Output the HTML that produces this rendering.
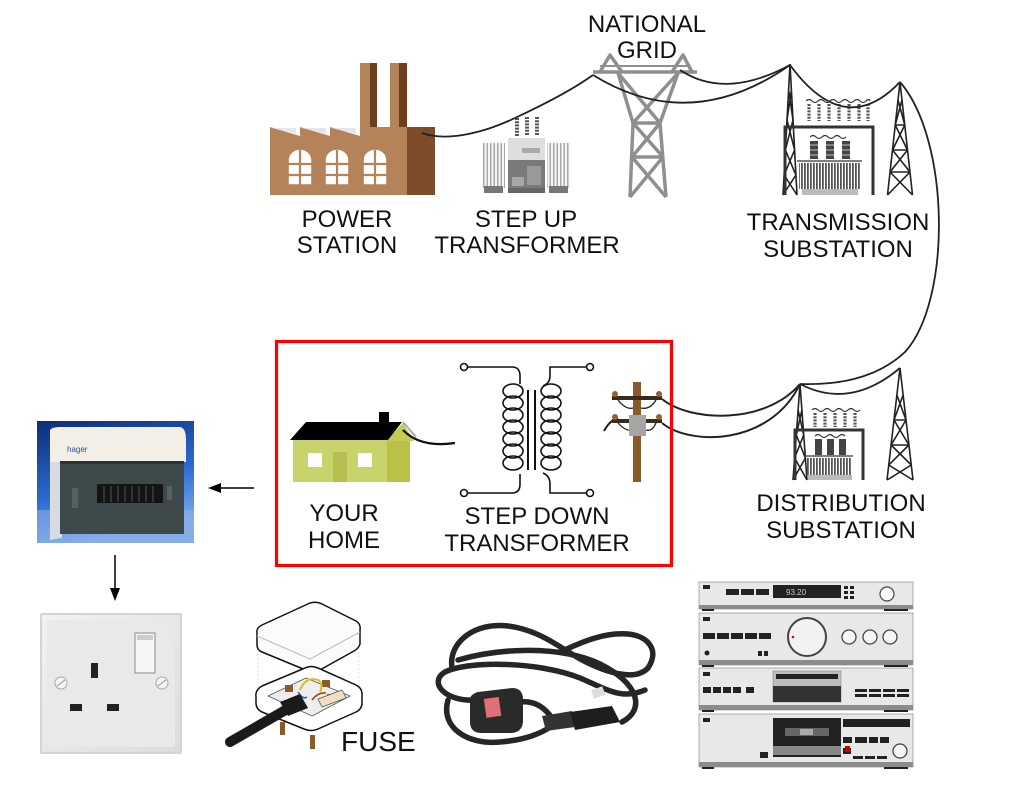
<!DOCTYPE html>
<html><head><meta charset="utf-8"><style>
html,body{margin:0;padding:0;background:#fff;}
svg{display:block;}
text{font-family:"Liberation Sans",Arial,sans-serif;fill:#111;}
</style></head><body>
<svg width="1024" height="803" viewBox="0 0 1024 803" xmlns="http://www.w3.org/2000/svg">
<defs>
<pattern id="grill" width="3" height="10" patternUnits="userSpaceOnUse"><rect width="3" height="10" fill="#fff"/><rect width="1.8" height="10" fill="#555"/></pattern>
<pattern id="fin" width="3.5" height="10" patternUnits="userSpaceOnUse"><rect width="3.5" height="10" fill="#f6f6f6"/><rect width="1.5" height="10" fill="#a8a8a8"/></pattern>
<linearGradient id="blue" x1="0" y1="0" x2="0.3" y2="1"><stop offset="0" stop-color="#0d2c78"/><stop offset="0.6" stop-color="#2d6ad0"/><stop offset="1" stop-color="#7aa8e8"/></linearGradient>
<linearGradient id="plate" x1="0" y1="0" x2="1" y2="1"><stop offset="0" stop-color="#f2f2f2"/><stop offset="1" stop-color="#dcdcdc"/></linearGradient>
</defs>
<rect width="1024" height="803" fill="#fff"/>

<!-- ============ POWER STATION ============ -->
<g>
<rect x="360" y="63" width="17" height="66" fill="#b5835a"/>
<rect x="370" y="63" width="7" height="66" fill="#6e3f1f"/>
<rect x="390" y="63" width="17" height="66" fill="#b5835a"/>
<rect x="399" y="63" width="8" height="66" fill="#6e3f1f"/>
<path d="M270,195 L270,127 L300,136 L300,127 L330,136 L330,127 L360,136 L360,127 L407,127 L407,195 Z" fill="#b5835a"/>
<path d="M272,128 L296,128 L296,134 Z M302,128 L326,128 L326,134 Z M332,128 L356,128 L356,134 Z" fill="#e6e6ea"/>
<rect x="407" y="127" width="28" height="68" fill="#7e4c29"/>
<g fill="#fff" stroke="#b5835a" stroke-width="1.6">
<path d="M288,185 L288,160 A12,11 0 0 1 312,160 L312,185 Z"/>
<path d="M325,185 L325,160 A12,11 0 0 1 349,160 L349,185 Z"/>
<path d="M363,185 L363,160 A12,11 0 0 1 387,160 L387,185 Z"/>
</g>
<g stroke="#b5835a" stroke-width="2.2">
<line x1="300" y1="150" x2="300" y2="185"/><line x1="288" y1="164" x2="312" y2="164"/><line x1="288" y1="175" x2="312" y2="175"/>
<line x1="337" y1="150" x2="337" y2="185"/><line x1="325" y1="164" x2="349" y2="164"/><line x1="325" y1="175" x2="349" y2="175"/>
<line x1="375" y1="150" x2="375" y2="185"/><line x1="363" y1="164" x2="387" y2="164"/><line x1="363" y1="175" x2="387" y2="175"/>
</g>
</g>

<!-- ============ STEP UP TRANSFORMER ============ -->
<g>
<rect x="482" y="143" width="23" height="45" fill="url(#fin)"/>
<rect x="547" y="143" width="23" height="45" fill="url(#fin)"/>
<rect x="484" y="186" width="19" height="7" fill="#777"/>
<rect x="549" y="186" width="19" height="7" fill="#777"/>
<rect x="508" y="138" width="37" height="55" fill="#dedede"/>
<rect x="522" y="148" width="18" height="5" fill="#aaa"/>
<rect x="508" y="160" width="37" height="28" fill="#7a7a7a"/>
<rect x="512" y="177" width="12" height="9" fill="#a8a8a8"/>
<rect x="527" y="166" width="14" height="19" fill="#999"/>
<rect x="508" y="188" width="37" height="5" fill="#666"/>
<g stroke="#555" stroke-width="4" stroke-dasharray="2,1.2">
<line x1="517" y1="118" x2="517" y2="136"/><line x1="527" y1="117" x2="527" y2="136"/><line x1="537" y1="117" x2="537" y2="136"/>
</g>
</g>

<!-- ============ NATIONAL GRID TOWER ============ -->
<g stroke="#8f8f8f" stroke-width="3.5" fill="none" stroke-linejoin="round">
<line x1="593" y1="72" x2="697" y2="72"/>
<line x1="600" y1="66" x2="690" y2="66" stroke-width="2"/>
<path d="M600,72 L610,55 L622,72"/>
<path d="M672,72 L683,55 L692,72"/>
<path d="M618,73 L633,123 L630,197"/>
<path d="M678,73 L660,123 L666,197"/>
<line x1="618" y1="73" x2="660" y2="123"/>
<line x1="678" y1="73" x2="633" y2="123"/>
<line x1="633" y1="123" x2="660" y2="123"/>
<line x1="632" y1="157" x2="663" y2="157"/>
<line x1="633" y1="123" x2="663" y2="157"/>
<line x1="660" y1="123" x2="632" y2="157"/>
<line x1="632" y1="157" x2="666" y2="197"/>
<line x1="663" y1="157" x2="630" y2="197"/>
</g>

<!-- ============ TRANSMISSION SUBSTATION ============ -->
<g stroke="#222" fill="none" stroke-width="1.6">
<line x1="790" y1="64" x2="783" y2="195"/><line x1="790" y1="64" x2="797" y2="195"/>
<path d="M788.6,90 L793,120 M791.4,90 L787,120 M787,120 L794.6,150 M793,120 L785.4,150 M785.4,150 L795.9,175 M794.6,150 L784.1,175 M784.1,175 L797,195 M795.9,175 L783,195"/>
<line x1="900" y1="82" x2="887.5" y2="195"/><line x1="900" y1="82" x2="912.5" y2="195"/>
<path d="M898,100 L904.8,125 M902,100 L895.2,125 M895.2,125 L907.5,150 M904.8,125 L892.5,150 M892.5,150 L910,172 M907.5,150 L890,172 M890,172 L912.5,195 M910,172 L887.5,195 M895.2,125 L904.8,125 M892.5,150 L907.5,150 M890,172 L910,172"/>
</g>
<g>
<path d="M785,195 L785,127 L873,127 L873,195" stroke="#333" stroke-width="3" fill="none"/>
<path d="M806,101 q3,-3 6,0 t6,0 t6,0 t6,0 t6,0 t6,0 t6,0 t6,0 t6,0 t6,0 t4,0" stroke="#333" stroke-width="1.2" fill="none"/>
<g stroke="#555" stroke-width="3.2" stroke-dasharray="2,1.2">
<line x1="809" y1="104" x2="809" y2="121"/><line x1="819" y1="104" x2="819" y2="121"/><line x1="829" y1="104" x2="829" y2="121"/><line x1="839" y1="104" x2="839" y2="121"/><line x1="849" y1="104" x2="849" y2="121"/><line x1="859" y1="104" x2="859" y2="121"/><line x1="868" y1="104" x2="868" y2="121"/>
</g>
<path d="M810,137 q3,-3 6,0 t6,0 t6,0 t6,0 t6,0 t6,0" stroke="#333" stroke-width="1.2" fill="none"/>
<g fill="#444"><rect x="810" y="141" width="8" height="18"/><rect x="826" y="141" width="8" height="18"/><rect x="842" y="141" width="8" height="18"/></g>
<g stroke="#ddd" stroke-width="0.8"><line x1="810" y1="145" x2="818" y2="145"/><line x1="810" y1="150" x2="818" y2="150"/><line x1="810" y1="155" x2="818" y2="155"/><line x1="826" y1="145" x2="834" y2="145"/><line x1="826" y1="150" x2="834" y2="150"/><line x1="826" y1="155" x2="834" y2="155"/><line x1="842" y1="145" x2="850" y2="145"/><line x1="842" y1="150" x2="850" y2="150"/><line x1="842" y1="155" x2="850" y2="155"/></g>
<line x1="797" y1="161" x2="862" y2="161" stroke="#555" stroke-width="1.5"/>
<rect x="799" y="163" width="61" height="26" fill="url(#grill)"/>
<rect x="802" y="189" width="56" height="6" fill="#bbb"/>
</g>

<!-- ============ DISTRIBUTION SUBSTATION ============ -->
<g stroke="#222" fill="none" stroke-width="1.6">
<line x1="800" y1="384" x2="793" y2="480"/><line x1="800" y1="384" x2="807" y2="480"/>
<path d="M798.1,410 L803.7,435 M801.9,410 L796.3,435 M796.3,435 L805.4,458 M803.7,435 L794.6,458 M794.6,458 L807,480 M805.4,458 L793,480"/>
<line x1="900" y1="368" x2="887" y2="480"/><line x1="900" y1="368" x2="913" y2="480"/>
<path d="M896.9,395 L906,420 M903.1,395 L894,420 M894,420 L908.9,445 M906,420 L891.1,445 M891.1,445 L911.3,465 M908.9,445 L888.7,465 M888.7,465 L913,480 M911.3,465 L887,480 M894,420 L906,420 M891.1,445 L908.9,445"/>
</g>
<g>
<path d="M795,480 L795,430 L863,430 L863,480" stroke="#333" stroke-width="3" fill="none"/>
<path d="M812,410 q3,-3 6,0 t6,0 t6,0 t6,0 t6,0 t6,0 t6,0 t6,0" stroke="#333" stroke-width="1.2" fill="none"/>
<g stroke="#555" stroke-width="3.2" stroke-dasharray="2,1.2">
<line x1="815" y1="413" x2="815" y2="427"/><line x1="825" y1="413" x2="825" y2="427"/><line x1="835" y1="413" x2="835" y2="427"/><line x1="845" y1="413" x2="845" y2="427"/><line x1="855" y1="413" x2="855" y2="427"/>
</g>
<path d="M815,436 q3,-3 6,0 t6,0 t6,0 t6,0 t6,0" stroke="#333" stroke-width="1.2" fill="none"/>
<g fill="#444"><rect x="815" y="439" width="7" height="16"/><rect x="827" y="439" width="7" height="16"/><rect x="839" y="439" width="7" height="16"/></g>
<line x1="805" y1="456" x2="853" y2="456" stroke="#555" stroke-width="1.5"/>
<rect x="807" y="458" width="45" height="17" fill="url(#grill)"/>
<rect x="808" y="475" width="44" height="5" fill="#bbb"/>
</g>

<!-- ============ WIRES ============ -->
<g stroke="#222" stroke-width="1.8" fill="none">
<path d="M422,133 C450,143 490,130 515,118 C545,104 575,88 593,75"/>
<path d="M593,75 Q690,135 790,65"/>
<path d="M680,70 Q725,100 790,65"/>
<path d="M790,65 Q845,140 900,82"/>
<path d="M900,82 C950,140 952,300 905,352 C875,380 835,385 800,384"/>
<path d="M800,384 Q850,410 900,368"/>
<path d="M662,399 C690,422 765,425 800,384" stroke-width="2"/>
<path d="M662,423 C690,446 770,446 800,384" stroke-width="2"/>
<path d="M604,431 Q610,420 618,418" stroke-width="2"/>
<path d="M618,400 Q626,410 633,408 M641,408 Q650,410 656,400" stroke-width="1.3"/>
<path d="M618,423 Q626,432 633,430 M646,430 Q652,432 656,423" stroke-width="1.3"/>
</g>

<!-- ============ POLE ============ -->
<g>
<rect x="633" y="382" width="8" height="100" fill="#8b5a2b"/>
<rect x="612" y="396" width="50" height="4" fill="#3a2a1a"/>
<rect x="612" y="419" width="50" height="4" fill="#3a2a1a"/>
<g fill="#9a6030"><circle cx="615" cy="394" r="3"/><circle cx="659" cy="394" r="3"/><circle cx="615" cy="417" r="3"/><circle cx="659" cy="417" r="3"/></g>
<rect x="629" y="415" width="17" height="21" fill="#a5a5a5"/>
</g>

<!-- ============ HOUSE ============ -->
<g>
<rect x="293" y="439" width="95" height="43" fill="#c8d36c"/>
<rect x="387" y="438" width="23" height="44" fill="#b9c247"/>
<path d="M386,441 L403,423 L414,441 Z" fill="#c3cb50"/>
<path d="M403,422 L416,437" stroke="#aaa" stroke-width="2"/>
<rect x="379" y="412" width="10" height="12" fill="#000"/>
<path d="M290,440 L306,422 L402,422 L388,440 Z" fill="#000"/>
<rect x="308" y="453" width="14" height="14" fill="#fff"/>
<rect x="358" y="453" width="14" height="14" fill="#fff"/>
<rect x="333" y="452" width="14" height="30" fill="#b4bf4f"/>
<path d="M403,430 Q420,448 455,443" stroke="#111" stroke-width="2.2" fill="none"/>
</g>

<!-- ============ STEP DOWN TRANSFORMER SYMBOL ============ -->
<g stroke="#111" stroke-width="1.6" fill="none">
<path d="M467,367 L512,367 Q520,367 520,376 L520,384"/>
<path d="M467,493 L512,493 Q520,493 520,484 L520,474"/>
<path d="M587,367 L550,367 L550,376 Q550,383 543,386"/>
<path d="M587,493 L550,493 L550,484 Q550,476 543,473"/>
<ellipse cx="513" cy="391" rx="10" ry="7"/><ellipse cx="513" cy="403" rx="10" ry="7"/><ellipse cx="513" cy="415" rx="10" ry="7"/><ellipse cx="513" cy="427" rx="10" ry="7"/><ellipse cx="513" cy="439" rx="10" ry="7"/><ellipse cx="513" cy="451" rx="10" ry="7"/><ellipse cx="513" cy="463" rx="10" ry="7"/>
<ellipse cx="551" cy="391" rx="10" ry="7"/><ellipse cx="551" cy="403" rx="10" ry="7"/><ellipse cx="551" cy="415" rx="10" ry="7"/><ellipse cx="551" cy="427" rx="10" ry="7"/><ellipse cx="551" cy="439" rx="10" ry="7"/><ellipse cx="551" cy="451" rx="10" ry="7"/><ellipse cx="551" cy="463" rx="10" ry="7"/>
<line x1="528" y1="390" x2="528" y2="470" stroke-width="2"/>
<line x1="535" y1="390" x2="535" y2="470" stroke-width="2"/>
<circle cx="464" cy="367" r="3.5" fill="#fff"/><circle cx="464" cy="493" r="3.5" fill="#fff"/>
<circle cx="590" cy="367" r="3.5" fill="#fff"/><circle cx="590" cy="493" r="3.5" fill="#fff"/>
</g>

<!-- RED BOX -->
<rect x="276.5" y="341.5" width="395" height="224" fill="none" stroke="#ff0000" stroke-width="3.2"/>

<!-- ============ CONSUMER UNIT ============ -->
<g>
<rect x="37" y="421" width="157" height="122" fill="url(#blue)"/>
<rect x="37" y="510" width="157" height="33" fill="#8fb4ea" opacity="0.5"/>
<path d="M50,430 L62,428 L62,538 L50,540 Z" fill="#d6dbe4"/>
<path d="M50,430 Q52,427 60,427 L180,427 Q186,428 186,440 L186,462 L50,462 Z" fill="#f3eee6"/>
<rect x="60" y="461" width="124" height="73" fill="#3d494b"/>
<rect x="60" y="461" width="124" height="3" fill="#2a3334"/>
<rect x="97" y="484" width="66" height="19" fill="#141414"/>
<g stroke="#555" stroke-width="1"><line x1="104" y1="486" x2="104" y2="502"/><line x1="111" y1="486" x2="111" y2="502"/><line x1="118" y1="486" x2="118" y2="502"/><line x1="125" y1="486" x2="125" y2="502"/><line x1="132" y1="486" x2="132" y2="502"/><line x1="139" y1="486" x2="139" y2="502"/><line x1="146" y1="486" x2="146" y2="502"/><line x1="153" y1="486" x2="153" y2="502"/></g>
<rect x="72" y="488" width="6" height="20" fill="#556063"/>
<rect x="167" y="486" width="5" height="14" fill="#556063"/>
<text x="67" y="452" font-size="8" style="fill:#2850a0">hager</text>
</g>

<!-- ARROWS -->
<g stroke="#000" stroke-width="1.5">
<line x1="254" y1="488" x2="218" y2="488"/>
<line x1="115" y1="555" x2="115" y2="590"/>
</g>
<polygon points="208,488 221,483 221,493" fill="#000"/>
<polygon points="115,601 110,588 120,588" fill="#000"/>

<!-- ============ SOCKET ============ -->
<g>
<rect x="40" y="613" width="142" height="141" rx="2" fill="#d4d4d4"/>
<rect x="42" y="615" width="138" height="137" fill="url(#plate)"/>
<rect x="47" y="620" width="128" height="127" fill="#e9e9e9"/>
<rect x="135" y="633" width="20" height="40" fill="#f6f6f6" stroke="#8a8a8a" stroke-width="1"/>
<rect x="137" y="635" width="16" height="5" fill="#ccc"/>
<rect x="91" y="663" width="7" height="15" fill="#222"/>
<rect x="70" y="704" width="12" height="7" fill="#222"/>
<rect x="107" y="704" width="12" height="7" fill="#222"/>
<circle cx="61" cy="683" r="6" fill="#f4f4f4" stroke="#aaa"/>
<circle cx="162" cy="683" r="6" fill="#f4f4f4" stroke="#aaa"/>
<line x1="57" y1="686" x2="65" y2="680" stroke="#999"/>
<line x1="158" y1="686" x2="166" y2="680" stroke="#999"/>
</g>

<!-- ============ PLUG (FUSE) ============ -->
<g stroke-linejoin="round">
<path d="M257,633 Q256,628 262,625 L310,603 Q316,601 322,604 L356,621 Q361,624 360,630 L360,644 Q359,648 354,651 L318,671 Q313,674 308,671 L262,652 Q257,650 257,645 Z" fill="#fbfbfb" stroke="#111" stroke-width="1.5"/>
<path d="M257,636 L310,659 L360,632" fill="none" stroke="#bbb" stroke-width="1"/>
<g stroke="#ccc" stroke-width="0.6" stroke-dasharray="2,2"><line x1="258" y1="650" x2="258" y2="692"/><line x1="359" y1="648" x2="359" y2="690"/></g>
<path d="M256,697 Q255,690 262,686 L305,668 Q311,665 318,668 L356,685 Q362,688 362,694 L362,703 Q362,709 356,712 L318,729 Q311,732 304,729 L262,712 Q256,709 256,703 Z" fill="#fff" stroke="#111" stroke-width="1.5"/>
<path d="M268,696 L306,678 L350,696 L312,716 Z" fill="#eee" stroke="#555" stroke-width="0.8"/>
<rect x="285" y="685" width="8" height="7" fill="#8a5a2a"/>
<rect x="322" y="680" width="8" height="7" fill="#8a5a2a"/>
<rect x="327" y="694" width="8" height="7" fill="#8a5a2a"/>
<path d="M300,690 Q306,676 318,680 Q324,684 320,692" fill="none" stroke="#d8c020" stroke-width="2"/>
<path d="M298,692 Q303,700 307,697" fill="none" stroke="#2a60c0" stroke-width="1.6"/>
<path d="M312,700 Q318,692 326,693" fill="none" stroke="#a04818" stroke-width="1.6"/>
<path d="M318,699 L342,690 L346,698 L322,707 Z" fill="#efe0c0" stroke="#555" stroke-width="0.8"/>
<line x1="230" y1="742" x2="296" y2="704" stroke="#1a1a1a" stroke-width="10" stroke-linecap="round"/>
<path d="M280,702 L300,694 L308,708 L288,716 Z" fill="#1a1a1a"/>
<rect x="280" y="722" width="5" height="13" fill="#8a5a2a"/>
<rect x="310" y="735" width="5" height="14" fill="#8a5a2a"/>
</g>
<text x="341" y="751" font-size="28">FUSE</text>

<!-- ============ CORD ============ -->
<g fill="none" stroke="#262626" stroke-width="5.5" stroke-linecap="round">
<path d="M452,668 C448,642 475,622 508,626 C540,630 560,648 582,660 C605,672 635,682 648,668 C660,650 648,636 628,634 C602,632 578,644 560,652"/>
<path d="M475,700 C445,702 428,682 445,672 C470,660 540,662 580,678 C608,690 622,700 645,690"/>
<path d="M448,700 C440,728 468,745 500,742 C525,740 540,734 552,726"/>
<path d="M458,660 C500,648 560,645 600,664 C640,684 645,710 622,722"/>
<path d="M520,702 C535,700 545,708 552,718"/>
</g>
<path d="M470,703 Q468,695 478,692 L512,688 Q522,688 523,698 L523,722 Q522,733 510,733 L482,733 Q470,733 470,722 Z" fill="#2a2a2a"/>
<rect x="485" y="698" width="15" height="19" fill="#e07078" transform="rotate(-8 492 707)"/>
<path d="M542,716 L572,711 L575,727 L546,731 Z" fill="#333"/>
<path d="M570,712 L612,706 L620,722 L575,730 Z" fill="#1e1e1e"/>
<rect x="592" y="688" width="12" height="9" fill="#ddd" transform="rotate(-20 598 692)"/>

<!-- ============ STEREO ============ -->
<g stroke="#999" stroke-width="0.8">
<rect x="699" y="582" width="214" height="27" fill="#e8e8e8"/>
<rect x="699" y="613" width="214" height="52" fill="#e8e8e8"/>
<rect x="699" y="668" width="214" height="42" fill="#e8e8e8"/>
<rect x="699" y="714" width="214" height="53" fill="#e8e8e8"/>
</g>
<g fill="#8c8c8c">
<rect x="699" y="605" width="214" height="4"/>
<rect x="699" y="660" width="214" height="5"/>
<rect x="699" y="705" width="214" height="5"/>
<rect x="699" y="762" width="214" height="5"/>
</g>
<g fill="#222">
<rect x="702" y="609" width="12" height="2"/><rect x="884" y="609" width="24" height="2"/>
<rect x="702" y="665" width="12" height="2"/><rect x="884" y="665" width="24" height="2"/>
<rect x="702" y="710" width="12" height="2"/><rect x="884" y="710" width="24" height="2"/>
<rect x="702" y="767" width="12" height="2"/><rect x="884" y="767" width="24" height="2"/>
<rect x="703" y="585" width="7" height="4"/><rect x="703" y="617" width="7" height="4"/><rect x="703" y="672" width="7" height="4"/><rect x="703" y="718" width="7" height="4"/>
<rect x="726" y="589" width="13" height="6"/><rect x="741" y="589" width="13" height="6"/><rect x="756" y="589" width="13" height="6"/>
<rect x="773" y="585" width="68" height="13"/>
<rect x="844" y="586" width="4" height="3"/><rect x="850" y="586" width="4" height="3"/><rect x="844" y="591" width="4" height="3"/><rect x="850" y="591" width="4" height="3"/><rect x="844" y="596" width="4" height="3"/><rect x="850" y="596" width="4" height="3"/>
<rect x="703" y="633" width="12" height="6"/><rect x="717" y="633" width="12" height="6"/><rect x="731" y="633" width="12" height="6"/><rect x="745" y="633" width="12" height="6"/><rect x="759" y="633" width="12" height="6"/>
<rect x="758" y="651" width="4" height="5"/><rect x="764" y="651" width="4" height="5"/>
<circle cx="707" cy="653" r="2.5"/>
<rect x="703" y="687" width="8" height="6"/><rect x="713" y="687" width="8" height="6"/><rect x="723" y="687" width="8" height="6"/><rect x="733" y="687" width="8" height="6"/><rect x="746" y="687" width="8" height="6"/>
<rect x="855" y="689" width="12" height="3"/><rect x="869" y="689" width="12" height="3"/><rect x="883" y="689" width="12" height="3"/><rect x="897" y="689" width="12" height="3"/>
<rect x="855" y="694" width="12" height="3"/><rect x="869" y="694" width="12" height="3"/><rect x="883" y="694" width="12" height="3"/><rect x="897" y="694" width="12" height="3"/>
<rect x="773" y="718" width="68" height="39"/>
<rect x="843" y="719" width="67" height="8"/>
<rect x="843" y="737" width="9" height="6"/><rect x="855" y="737" width="12" height="6"/><rect x="869" y="737" width="9" height="6"/><rect x="880" y="737" width="9" height="6"/>
<rect x="760" y="752" width="8" height="6"/>
<rect x="843" y="748" width="8" height="6"/>
<rect x="853" y="756" width="10" height="3"/><rect x="865" y="756" width="10" height="3"/><rect x="877" y="756" width="10" height="3"/>
</g>
<rect x="773" y="671" width="68" height="31" fill="#bdbdbd" stroke="#888" stroke-width="0.6"/>
<rect x="776" y="674" width="62" height="5" fill="#222"/>
<rect x="773" y="686" width="68" height="16" fill="#333"/>
<rect x="785" y="728" width="44" height="8" fill="#666"/>
<rect x="800" y="729" width="13" height="6" fill="#aaa"/>
<rect x="773" y="746" width="68" height="9" fill="#888"/>
<rect x="845" y="746" width="5" height="6" fill="#c00"/>
<text x="786" y="595" font-size="8" style="fill:#ccc">93.20</text>
<circle cx="887" cy="594" r="7" fill="#fafafa" stroke="#444" stroke-width="1.2"/>
<circle cx="807" cy="637" r="19" fill="#f2f2f2" stroke="#444" stroke-width="2"/>
<circle cx="793" cy="637" r="1.3" fill="#d00"/>
<circle cx="849" cy="637" r="7" fill="#f6f6f6" stroke="#444" stroke-width="1.3"/>
<circle cx="870" cy="637" r="7" fill="#f6f6f6" stroke="#444" stroke-width="1.3"/>
<circle cx="890" cy="637" r="7" fill="#f6f6f6" stroke="#444" stroke-width="1.3"/>
<circle cx="900" cy="751" r="7" fill="#f6f6f6" stroke="#444" stroke-width="1.3"/>

<!-- ============ LABELS ============ -->
<g font-size="24" text-anchor="middle">
<text x="647" y="32">NATIONAL</text>
<text x="647" y="58">GRID</text>
<text x="347" y="227">POWER</text>
<text x="347" y="253">STATION</text>
<text x="526" y="227">STEP UP</text>
<text x="527" y="253">TRANSFORMER</text>
<text x="838" y="230">TRANSMISSION</text>
<text x="838" y="257">SUBSTATION</text>
<text x="841" y="511">DISTRIBUTION</text>
<text x="841" y="538">SUBSTATION</text>
<text x="344" y="521">YOUR</text>
<text x="344" y="548">HOME</text>
<text x="537" y="524">STEP DOWN</text>
<text x="537" y="551">TRANSFORMER</text>
</g>
</svg>
</body></html>
